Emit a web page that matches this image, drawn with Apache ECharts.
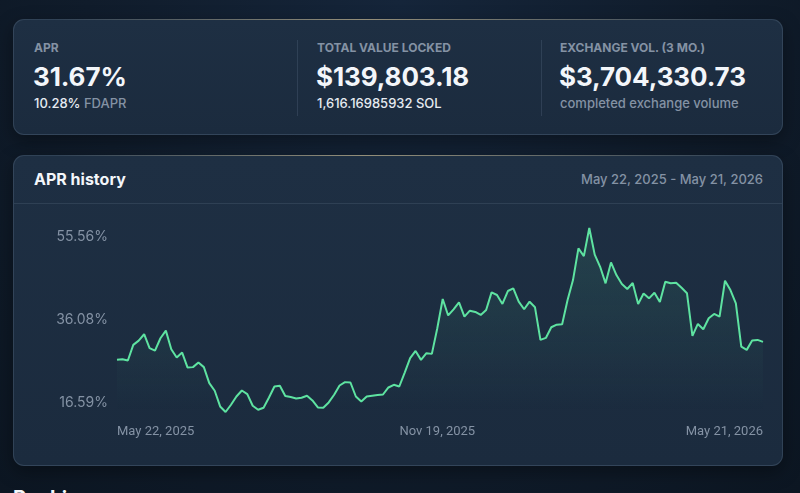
<!DOCTYPE html>
<html>
<head>
<meta charset="utf-8">
<script src="https://cdn.jsdelivr.net/npm/echarts@6/dist/echarts.min.js"></script>
<style>
  html, body { margin: 0; padding: 0; }
  body {
    width: 800px; height: 493px; overflow: hidden; position: relative;
    background: radial-gradient(ellipse at 50% 0%, #15253a 0%, #101c2b 55%, #0c1622 100%);
    font-family: Inter, "Noto Sans", sans-serif;
  }
  .card {
    position: absolute; box-sizing: border-box; left: 13px; width: 770px;
    border: 1px solid rgba(160, 185, 210, 0.16); border-radius: 11px;
    background: linear-gradient(180deg, #1e2f43 0%, #1b2b3e 100%);
    box-shadow: 0 6px 18px rgba(0, 0, 0, 0.35);
  }
  .card::before {
    content: ""; position: absolute; left: 40px; right: 40px; top: -1px; height: 1px;
    background: linear-gradient(90deg, rgba(230,200,140,0) 0%, rgba(230,205,150,0.55) 45%, rgba(230,200,140,0) 100%);
  }
  .t { position: absolute; white-space: nowrap; }
  .lbl { font-size: 12px; font-weight: 700; color: #8492a4; line-height: 14px; }
  .big { font-size: 26px; font-weight: 700; color: #f3f6fa; line-height: 30px; letter-spacing: -0.1px; }
  .sub { font-size: 13px; font-weight: 500; color: #e6ebf1; line-height: 16px; }
  .muted { color: #8492a4; }
  .vline { position: absolute; top: 40px; width: 1px; height: 76px; background: rgba(160,185,210,0.14); }
  #main { position: absolute; left: 14px; top: 204px; width: 768px; height: 260px; }
</style>
</head>
<body>
<div class="card" style="top:19px;height:116px;"></div>
<div class="t lbl" style="left:34px;top:41px;">APR</div>
<div class="t big" style="left:33px;top:62px;">31.67%</div>
<div class="t sub" style="left:34px;top:95px;">10.28% <span class="muted">FDAPR</span></div>
<div class="vline" style="left:297px;"></div>
<div class="t lbl" style="left:317px;top:41px;">TOTAL VALUE LOCKED</div>
<div class="t big" style="left:316px;top:62px;">$139,803.18</div>
<div class="t sub" style="left:317px;top:95px;">1,616.16985932 SOL</div>
<div class="vline" style="left:541px;"></div>
<div class="t lbl" style="left:560px;top:41px;">EXCHANGE VOL. (3 MO.)</div>
<div class="t big" style="left:559px;top:62px;">$3,704,330.73</div>
<div class="t sub muted" style="left:560px;top:95px;">completed exchange volume</div>

<div class="card" style="top:155px;height:311px;"></div>
<div class="t" style="left:34px;top:169px;font-size:16px;font-weight:700;color:#f3f6fa;line-height:20px;">APR history</div>
<div class="t" style="right:37px;top:171px;font-size:13px;font-weight:500;color:#8492a4;line-height:16px;">May 22, 2025 - May 21, 2026</div>
<div style="position:absolute;left:14px;width:768px;top:203px;height:1px;background:rgba(160,185,210,0.13);"></div>
<div id="main"></div>
<div class="t" style="left:13px;top:486px;font-size:20px;font-weight:700;color:#f3f6fa;line-height:24px;">Rankings</div>

<script>
// APR history, one value per sample
const apr = [
  26.69, 26.85, 26.53, 30.21, 31.22, 32.72, 29.44, 28.87, 31.78, 33.57,
  29.20, 27.23, 28.40, 24.88, 24.98, 26.06, 24.98, 21.22, 19.41, 15.73,
  14.42, 16.13, 18.07, 19.48, 18.64, 15.89, 14.95, 15.42, 17.84, 20.42,
  20.59, 18.17, 17.93, 17.60, 17.77, 18.24, 17.13, 15.49, 15.42, 16.67,
  18.47, 20.66, 21.45, 21.36, 18.07, 16.90, 18.07, 18.24, 18.40, 18.54,
  20.19, 20.82, 20.42, 23.71, 27.09, 28.80, 26.69, 28.26, 28.10, 34.13,
  41.01, 37.14, 38.59, 40.24, 36.86, 38.26, 37.96, 37.25, 38.43, 42.58,
  41.95, 39.84, 42.89, 43.52, 40.38, 38.59, 40.38, 39.06, 31.39, 31.85,
  34.37, 34.98, 35.07, 40.78, 45.47, 52.91, 51.10, 57.72, 51.46, 48.59,
  44.70, 49.63, 46.64, 44.53, 43.36, 44.77, 39.84, 42.30, 41.17,
  42.49, 40.31, 45.07, 44.70, 44.84, 43.66, 42.35, 32.32, 35.14, 33.90,
  36.48, 37.49, 36.86, 45.31, 43.12, 40.00, 29.81, 29.04, 31.22, 31.39,
  30.92
];
const xTickIndex = [0, 59, 119];
const xTickLabels = ['May 22, 2025', 'Nov 19, 2025', 'May 21, 2026'];
const yTickValues = [16.59, 36.08, 55.56];

const chart = echarts.init(document.getElementById('main'));
const option = {
  animation: false,
  grid: { left: 103, right: 19, top: 24, bottom: 52 },
  xAxis: {
    type: 'value',
    min: 0,
    max: apr.length - 1,
    splitLine: { show: false },
    axisLine: { show: false },
    axisTick: { show: false },
    axisLabel: {
      customValues: xTickIndex,
      formatter: v => xTickLabels[xTickIndex.indexOf(v)] || '',
      color: '#8492a4',
      fontFamily: 'Roboto',
      fontSize: 13,
      margin: 13,
      alignMinLabel: 'left',
      alignMaxLabel: 'right'
    }
  },
  yAxis: {
    type: 'value',
    min: 'dataMin',
    max: 'dataMax',
    splitLine: { show: false },
    axisLine: { show: false },
    axisTick: { show: false },
    axisLabel: {
      customValues: yTickValues,
      formatter: v => v.toFixed(2) + '%',
      color: '#8492a4',
      fontFamily: 'Inter',
      fontSize: 14,
      margin: 9
    }
  },
  series: [{
    type: 'line',
    data: apr.map((v, i) => [i, v]),
    showSymbol: false,
    lineStyle: { color: '#5ee3a1', width: 2 },
    itemStyle: { color: '#5ee3a1' },
    areaStyle: {
      origin: 'start',
      color: new echarts.graphic.LinearGradient(0, 0, 0, 1, [
        { offset: 0, color: 'rgba(94,227,161,0.17)' },
        { offset: 1, color: 'rgba(94,227,161,0.0)' }
      ])
    }
  }]
};
chart.setOption(option);
</script>
</body>
</html>
